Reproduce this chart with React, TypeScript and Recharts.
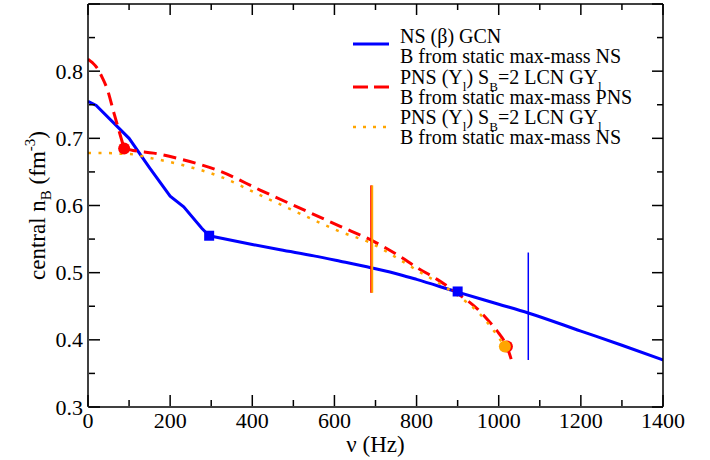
import React from 'react';
import { ComposedChart, Line, Scatter, XAxis, YAxis, Label } from 'recharts';

// frequency (Hz) and central baryon density (fm^-3)
const blueNuA = [0, 20, 100, 150, 200, 233, 277, 295];
const blueNbA = [0.755, 0.749, 0.7, 0.656, 0.614, 0.598, 0.566, 0.555];
const blueNuB = [295, 400, 468, 550, 614, 691, 760, 800, 900, 1000, 1072, 1200, 1300, 1400];
const blueNbB = [0.555, 0.542, 0.534, 0.525, 0.517, 0.507, 0.497, 0.49, 0.471, 0.453, 0.44, 0.413, 0.392, 0.37];

const redNuA = [0, 10, 22, 35, 47, 63, 76, 88];
const redNbA = [0.818, 0.813, 0.805, 0.79, 0.773, 0.738, 0.71, 0.685];
const redNuB = [88, 110, 160, 225, 322, 419, 516, 614, 691, 760, 800, 850, 900, 950, 980, 1000, 1020, 1031];
const redNbB = [0.685, 0.682, 0.678, 0.669, 0.651, 0.623, 0.596, 0.569, 0.548, 0.524, 0.508, 0.49, 0.469, 0.445, 0.425, 0.41, 0.39, 0.37];

const orangeNu = [0, 50, 80, 103, 150, 225, 322, 419, 516, 614, 691, 760, 800, 850, 900, 950, 980, 1015];
const orangeNb = [0.678, 0.678, 0.677, 0.6765, 0.671, 0.661, 0.643, 0.6155, 0.588, 0.561, 0.5435, 0.519, 0.504, 0.486, 0.466, 0.441, 0.42, 0.39];

// vertical bars (nu, nB from, nB to)
const blueBarNu = 1072;
const blueBarNb = [0.37, 0.53];
const redBarNu = 689.5;
const orangeBarNu = 692;
const pnsBarNb = [0.47, 0.63];

// markers
const blueSquares = [{ x: 295, y: 0.555 }, { x: 900, y: 0.472 }];
const redCircles = [{ x: 88, y: 0.685 }, { x: 1020, y: 0.39 }];
const orangeCircles = [{ x: 1015, y: 0.39 }];

const xTicks = [0, 100, 200, 300, 400, 500, 600, 700, 800, 900, 1000, 1100, 1200, 1300, 1400];
const yTicks = [0.3, 0.35, 0.4, 0.45, 0.5, 0.55, 0.6, 0.65, 0.7, 0.75, 0.8, 0.85, 0.9];

const zip = (xs: number[], ys: number[]) => xs.map((x, i) => ({ x, y: ys[i] }));

const blueDataA = zip(blueNuA, blueNbA);
const blueDataB = zip(blueNuB, blueNbB);
const redDataA = zip(redNuA, redNbA);
const redDataB = zip(redNuB, redNbB);
const orangeData = zip(orangeNu, orangeNb);
const blueBar = zip([blueBarNu, blueBarNu], blueBarNb);
const redBar = zip([redBarNu, redBarNu], pnsBarNb);
const orangeBar = zip([orangeBarNu, orangeBarNu], pnsBarNb);

const FONT = 'Liberation Serif, DejaVu Serif, serif';
const BLUE = '#0000ff';
const RED = '#ff0000';
const ORANGE = '#ffa500';

const isMajorX = (v: number) => v % 200 === 0;
const isMajorY = (v: number) => Math.round(v * 100) % 10 === 0;

const BottomTick = (p: any) => {
  const v = p.payload.value;
  const major = isMajorX(v);
  const y0 = p.y - 1;
  return (
    <g>
      <line x1={p.x} x2={p.x} y1={y0} y2={y0 - (major ? 11 : 6)} stroke="#000" strokeWidth={1.5} />
      {major && (
        <text x={p.x} y={y0 + 22} textAnchor="middle" style={{ fontFamily: FONT, fontSize: 22 }} fill="#000">
          {v}
        </text>
      )}
    </g>
  );
};

const TopTick = (p: any) => {
  const major = isMajorX(p.payload.value);
  return <line x1={p.x} x2={p.x} y1={p.y} y2={p.y + (major ? 11 : 6)} stroke="#000" strokeWidth={1.5} />;
};

const LeftTick = (p: any) => {
  const v = p.payload.value;
  const major = isMajorY(v);
  const x0 = p.x + 1;
  return (
    <g>
      <line x1={x0} x2={x0 + (major ? 11 : 6)} y1={p.y} y2={p.y} stroke="#000" strokeWidth={1.5} />
      {major && v < 0.85 && (
        <text x={x0 - 6} y={p.y + 7.5} textAnchor="end" style={{ fontFamily: FONT, fontSize: 22 }} fill="#000">
          {v.toFixed(1)}
        </text>
      )}
    </g>
  );
};

const RightTick = (p: any) => {
  const major = isMajorY(p.payload.value);
  return <line x1={p.x} x2={p.x - (major ? 11 : 6)} y1={p.y} y2={p.y} stroke="#000" strokeWidth={1.5} />;
};

const YTitle = (props: any) => {
  const { y, height } = props.viewBox;
  const cx = 45;
  const cy = y + height / 2;
  return (
    <text transform={`rotate(-90 ${cx} ${cy})`} x={cx} y={cy} textAnchor="middle" style={{ fontFamily: FONT, fontSize: 23 }} fill="#000">
      central n<tspan dy={6} style={{ fontSize: 15 }}>B</tspan>
      <tspan dy={-6}> (fm</tspan>
      <tspan dy={-10} style={{ fontSize: 15 }}>-3</tspan>
      <tspan dy={10}>)</tspan>
    </text>
  );
};

const XTitle = (props: any) => {
  const { x, width } = props.viewBox;
  return (
    <text x={x + width / 2} y={452} textAnchor="middle" style={{ fontFamily: FONT, fontSize: 23 }} fill="#000">
      ν (Hz)
    </text>
  );
};

const square = (p: any) => <rect x={p.cx - 5} y={p.cy - 5} width={10} height={10} fill={BLUE} />;
const circle = (color: string) => (p: any) => <circle cx={p.cx} cy={p.cy} r={6} fill={color} />;

const sub: React.CSSProperties = { fontSize: 13, position: 'relative', top: 7, lineHeight: 0 };

const LegendSample = ({ color, dash, width }: { color: string; dash?: string; width: number }) => (
  <svg width={36} height={10} style={{ position: 'absolute', left: 0 }}>
    <line x1={0} x2={36} y1={5} y2={5} stroke={color} strokeWidth={width} strokeDasharray={dash} />
  </svg>
);

const ChartLegend = () => (
  <div
    style={{
      position: 'absolute',
      left: 353,
      top: 26,
      fontFamily: FONT,
      fontSize: 20,
      lineHeight: '20.3px',
      color: '#000',
      whiteSpace: 'nowrap',
    }}
  >
    <div style={{ position: 'relative', paddingLeft: 47 }}>
      <div style={{ position: 'absolute', left: 0, top: 13 }}><LegendSample color={BLUE} width={3} /></div>
      <div>NS (β) GCN</div>
      <div>B from static max-mass NS</div>
    </div>
    <div style={{ position: 'relative', paddingLeft: 47 }}>
      <div style={{ position: 'absolute', left: 0, top: 15 }}><LegendSample color={RED} width={3} dash="15 6" /></div>
      <div>
        PNS (Y<span style={sub}>l</span>) S<span style={sub}>B</span>=2 LCN GY<span style={sub}>l</span>
      </div>
      <div>B from static max-mass PNS</div>
    </div>
    <div style={{ position: 'relative', paddingLeft: 47 }}>
      <div style={{ position: 'absolute', left: 0, top: 15 }}><LegendSample color={ORANGE} width={2.5} dash="3 7" /></div>
      <div>
        PNS (Y<span style={sub}>l</span>) S<span style={sub}>B</span>=2 LCN GY<span style={sub}>l</span>
      </div>
      <div>B from static max-mass NS</div>
    </div>
  </div>
);

const axisLine = { stroke: '#000', strokeWidth: 1.5 };

export default function App() {
  return (
    <div style={{ position: 'absolute', left: 0, top: 0, width: 710, height: 460, background: '#fff' }}>
      <ComposedChart width={710} height={460} margin={{ top: 3, right: 46, bottom: 52, left: 87 }}>
        <XAxis
          xAxisId={0}
          dataKey="x"
          type="number"
          domain={[0, 1400]}
          ticks={xTicks}
          interval={0}
          height={1}
          tickSize={0}
          tickMargin={0}
          tickLine={false}
          tick={BottomTick}
          axisLine={axisLine}
          allowDataOverflow
        >
          <Label content={XTitle} />
        </XAxis>
        <XAxis
          xAxisId="top"
          orientation="top"
          dataKey="x"
          type="number"
          domain={[0, 1400]}
          ticks={xTicks}
          interval={0}
          height={1}
          tickSize={0}
          tickMargin={0}
          tickLine={false}
          tick={TopTick}
          axisLine={axisLine}
          allowDataOverflow
        />
        <YAxis
          yAxisId={0}
          dataKey="y"
          type="number"
          domain={[0.3, 0.9]}
          ticks={yTicks}
          interval={0}
          width={1}
          tickSize={0}
          tickMargin={0}
          tickLine={false}
          tick={LeftTick}
          axisLine={axisLine}
          allowDataOverflow
        >
          <Label content={YTitle} />
        </YAxis>
        <YAxis
          yAxisId="right"
          orientation="right"
          dataKey="y"
          type="number"
          domain={[0.3, 0.9]}
          ticks={yTicks}
          interval={0}
          width={1}
          tickSize={0}
          tickMargin={0}
          tickLine={false}
          tick={RightTick}
          axisLine={axisLine}
          allowDataOverflow
        />

        <Line data={blueDataA} dataKey="y" type="linear" stroke={BLUE} strokeWidth={3} dot={false} isAnimationActive={false} />
        <Line data={blueDataB} dataKey="y" type="monotone" stroke={BLUE} strokeWidth={3} dot={false} isAnimationActive={false} />
        <Line data={redDataA} dataKey="y" type="monotone" stroke={RED} strokeWidth={3} strokeDasharray="13 7" dot={false} isAnimationActive={false} />
        <Line data={redDataB} dataKey="y" type="monotone" stroke={RED} strokeWidth={3} strokeDasharray="13 7" dot={false} isAnimationActive={false} />
        <Line data={orangeData} dataKey="y" type="monotone" stroke={ORANGE} strokeWidth={2.5} strokeDasharray="3 7.5" dot={false} isAnimationActive={false} />

        <Line data={blueBar} dataKey="y" type="linear" stroke={BLUE} strokeWidth={1.5} dot={false} isAnimationActive={false} />
        <Line data={redBar} dataKey="y" type="linear" stroke={RED} strokeWidth={2} dot={false} isAnimationActive={false} />
        <Line data={orangeBar} dataKey="y" type="linear" stroke={ORANGE} strokeWidth={2} dot={false} isAnimationActive={false} />

        <Scatter data={redCircles} dataKey="y" shape={circle(RED)} isAnimationActive={false} />
        <Scatter data={orangeCircles} dataKey="y" shape={circle(ORANGE)} isAnimationActive={false} />
        <Scatter data={blueSquares} dataKey="y" shape={square} isAnimationActive={false} />
      </ComposedChart>
      <ChartLegend />
    </div>
  );
}
